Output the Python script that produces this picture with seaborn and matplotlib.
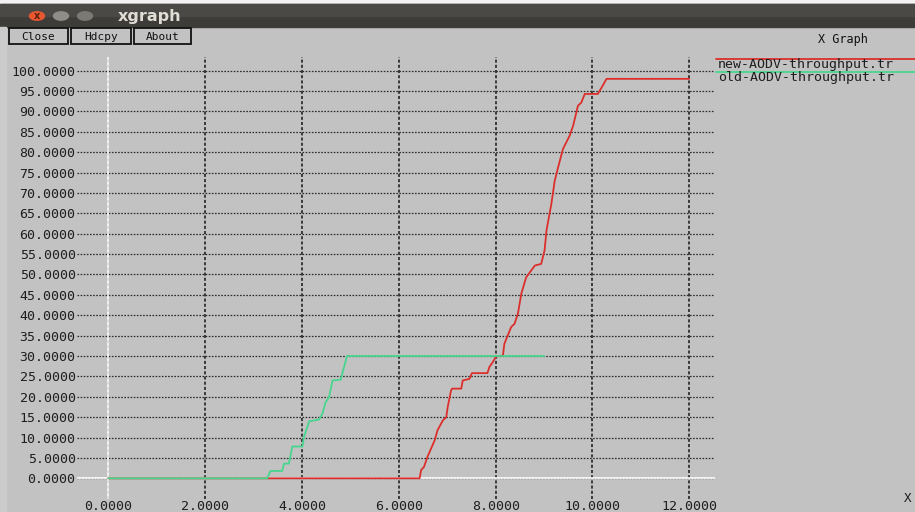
import numpy as np
import pandas as pd
import matplotlib
matplotlib.use("Agg")
import matplotlib.pyplot as plt
import seaborn as sns
from matplotlib.patches import Rectangle, Circle
from matplotlib.lines import Line2D
from matplotlib.ticker import FormatStrFormatter

# traces (time, cumulative throughput)
new_x = [0, 6.43, 6.46, 6.52, 6.59, 6.74, 6.80, 6.91, 6.98, 7.01, 7.08, 7.10, 7.29, 7.32,
         7.46, 7.51, 7.83, 7.87, 7.94, 8.01, 8.15, 8.18, 8.32, 8.39, 8.46, 8.53, 8.63,
         8.81, 8.94, 9.01, 9.05, 9.15, 9.22, 9.29, 9.39, 9.53, 9.60, 9.70, 9.77, 9.84,
         10.11, 10.19, 10.29, 12.0]
new_y = [0, 0, 2.0, 2.8, 5.2, 9.3, 11.8, 14.2, 15.0, 17.5, 21.6, 22.0, 22.0, 24.0,
         24.4, 25.8, 25.8, 27.3, 28.5, 29.9, 30.1, 33.0, 37.1, 37.9, 40.4, 45.3, 49.3,
         52.2, 52.6, 55.9, 60.8, 67.3, 73.0, 76.3, 80.8, 84.1, 86.5, 91.4, 92.2, 94.3,
         94.3, 95.9, 98.0, 98.0]

old_x = [0, 3.28, 3.35, 3.59, 3.63, 3.73, 3.80, 4.01, 4.04, 4.15, 4.35, 4.42, 4.49,
         4.56, 4.63, 4.80, 4.93, 9.0]
old_y = [0, 0, 1.8, 1.8, 3.6, 3.6, 7.8, 7.8, 10.1, 14.0, 14.4, 15.8, 18.7,
         19.9, 24.0, 24.2, 30.0, 30.0]

series_names = ["new-AODV-throughput.tr", "old-AODV-throughput.tr"]
series_colors = ["#dc2f2c", "#46d68e"]
x_ticks = [0, 2, 4, 6, 8, 10, 12]
y_ticks = list(range(0, 101, 5))
buttons = ["Close", "Hdcpy", "About"]

df = pd.concat([
    pd.DataFrame({"time": new_x, "throughput": new_y, "trace": series_names[0]}),
    pd.DataFrame({"time": old_x, "throughput": old_y, "trace": series_names[1]}),
], ignore_index=True)

sns.set_style("white")
plt.rcParams["font.family"] = ["DejaVu Sans Mono", "DejaVu Sans"]

W, H = 915, 512
bg = "#c2c2c2"
fig = plt.figure(figsize=(W / 100, H / 100), dpi=100, facecolor=bg)

def fx(px):
    return px / W

def fy(py):
    return 1 - py / H

# window chrome: title bar + button row
fig.patches.append(Rectangle((0, fy(4)), 1, 4 / H, transform=fig.transFigure,
                             color="#f2f2f2", zorder=0))
fig.patches.append(Rectangle((0, fy(27)), 1, 23 / H, transform=fig.transFigure,
                             color="#3d3c38", zorder=0))
fig.patches.append(Rectangle((0, fy(16)), 1, 12 / H, transform=fig.transFigure,
                             color="#4a4945", zorder=0))
fig.patches.append(Rectangle((0, 0), fx(6), fy(27), transform=fig.transFigure,
                             color="#cbcbcb", zorder=0))
for cx, col in [(37, "#e9572e"), (61, "#8f8d88"), (85, "#7b7974")]:
    fig.patches.append(Circle((fx(cx), fy(16)), 7.5 / W, transform=fig.transFigure,
                              color=col, zorder=1))
fig.text(fx(37), fy(16), "x", fontsize=7, color="#5a2010", va="center", ha="center",
         family="DejaVu Sans", weight="bold")
fig.text(fx(118), fy(16), "xgraph", fontsize=11.5, color="#e0ddd5", va="center",
         family="DejaVu Sans", weight="bold")

for (x0, x1), label in zip([(9, 68), (71, 131), (134, 191)], buttons):
    fig.patches.append(Rectangle((fx(x0), fy(44)), fx(x1 - x0), 16 / H,
                                 transform=fig.transFigure, facecolor=bg,
                                 edgecolor="#111111", lw=1.3, zorder=1))
    fig.text(fx((x0 + x1) / 2), fy(36.5), label, fontsize=8, color="#111111",
             ha="center", va="center")
fig.text(fx(843), fy(39), "X Graph", fontsize=8.5, color="#111111",
         ha="center", va="center")

# plotting area
ax = fig.add_axes([fx(77), fy(499), fx(715 - 77), (499 - 57) / H])
ax.set_facecolor(bg)
sns.lineplot(data=df, x="time", y="throughput", hue="trace", palette=series_colors,
             sort=False, estimator=None, legend=False, linewidth=1.3, ax=ax, zorder=3)

ax.set_xlim(-0.646, 12.53)
ax.set_ylim(-5.08, 103.36)
ax.set_xticks(x_ticks)
ax.set_yticks(y_ticks)
ax.xaxis.set_major_formatter(FormatStrFormatter("%.4f"))
ax.yaxis.set_major_formatter(FormatStrFormatter("%.4f"))
ax.tick_params(length=0, labelsize=9.5, colors="#1e1e1e")
ax.tick_params(axis="x", pad=1)
ax.tick_params(axis="y", pad=1)
ax.set_xlabel("")
ax.set_ylabel("")
for s in ax.spines.values():
    s.set_visible(False)

ax.xaxis.grid(True, color="#151515", linestyle=(0, (2, 1.4)), linewidth=1.1)
ax.yaxis.grid(True, color="#2a2a2a", linestyle=(0, (1.3, 1.2)), linewidth=0.9)
ax.axhline(0, color="white", linewidth=1.2, zorder=1.5)
ax.axvline(0, color="white", linewidth=1.2, zorder=1.5)

# xgraph legend on the right
for i, (name, col) in enumerate(zip(series_names, series_colors)):
    yl = 58.5 + i * 13
    fig.add_artist(Line2D([fx(716), 1], [fy(yl), fy(yl)], transform=fig.transFigure,
                          color=col, lw=1.3))
    fig.text(fx(718), fy(yl + 6), name, fontsize=9.5, color="#1e1e1e", va="center")

fig.text(fx(904), fy(498), "X", fontsize=9, color="#1e1e1e", va="center")

fig.savefig("out.png", dpi=100, facecolor=bg)
